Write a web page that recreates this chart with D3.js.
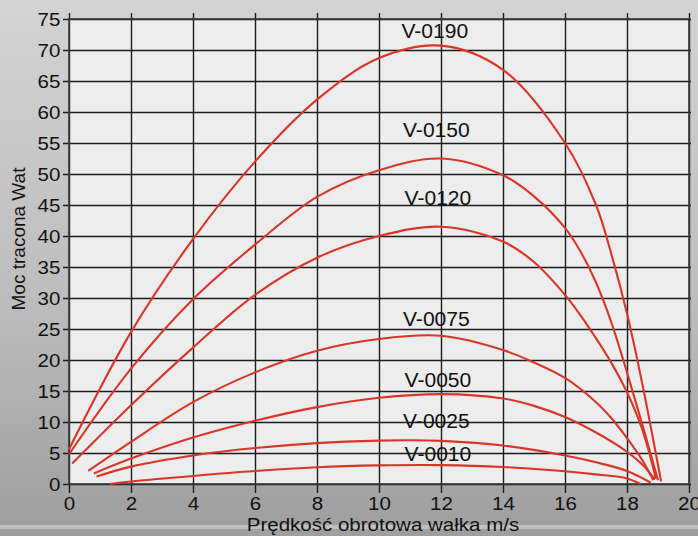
<!DOCTYPE html>
<html>
<head>
<meta charset="utf-8">
<script src="https://cdn.jsdelivr.net/npm/d3@7"></script>
<style>
  html, body { margin: 0; padding: 0; background: #b8b8b8; }
  svg { display: block; }
</style>
</head>
<body>
<div id="chart"></div>
<script>
// ---- data ----
const seriesNames = ["V-0190", "V-0150", "V-0120", "V-0075", "V-0050", "V-0025", "V-0010"];

const v0190x = [0, 2, 4, 6, 8, 10, 12, 14, 16, 17, 17.5, 18, 18.5, 19.1];
const v0190y = [5.6, 24.5, 39.5, 52, 62, 68.7, 70.7, 66.8, 55, 45, 37, 27.5, 16, 0.4];

const v0150x = [0, 2, 4, 6, 8, 10, 12, 14, 15, 16, 16.5, 17, 17.5, 18, 18.5, 19.0];
const v0150y = [4.8, 18.6, 29.8, 38.6, 46.3, 50.6, 52.5, 49.8, 46.4, 41.3, 37.5, 32.5, 26, 18, 9.5, 0.6];

const v0120x = [0.1, 2, 4, 6, 8, 10, 12, 14, 15, 16, 16.5, 17, 17.5, 18, 18.5, 18.93];
const v0120y = [3.3, 12.7, 22, 30.5, 36.5, 40, 41.5, 39.1, 35.8, 30.5, 27.2, 23.5, 19.5, 14.8, 8.7, 0.9];

const v0075x = [0.62, 2, 4, 6, 8, 10, 12, 14, 15, 16, 17, 17.5, 18, 18.5, 18.85];
const v0075y = [2.1, 6.8, 13.2, 18, 21.5, 23.4, 23.9, 21.6, 19.6, 17.1, 13.2, 10.6, 7.4, 3.8, 0.6];

const v0050x = [0.8, 2, 4, 6, 8, 10, 12, 14, 15, 16, 17, 18, 18.5, 18.9];
const v0050y = [1.7, 4.1, 7.5, 10.2, 12.4, 13.9, 14.5, 13.8, 12.6, 10.8, 8.3, 5.2, 3.1, 0.75];

const v0025x = [0.89, 2, 4, 6, 8, 10, 11, 12, 14, 16, 17, 18, 18.77];
const v0025y = [1.2, 2.8, 4.6, 5.8, 6.6, 7.0, 7.05, 6.95, 6.2, 4.6, 3.5, 2.1, 0.2];

const v0010x = [1.32, 2, 4, 6, 8, 10, 12, 14, 16, 17, 18, 18.44];
const v0010y = [0, 0.4, 1.3, 2.1, 2.7, 3.0, 3.05, 2.75, 2.05, 1.55, 0.9, 0];

const seriesX = [v0190x, v0150x, v0120x, v0075x, v0050x, v0025x, v0010x];
const seriesY = [v0190y, v0150y, v0120y, v0075y, v0050y, v0025y, v0010y];

// label anchors (data units)
const labelX = [11.8, 11.85, 11.9, 11.85, 11.9, 11.85, 11.9];
const labelY = [71.9, 56.0, 45.0, 25.5, 15.6, 9.0, 3.7];

const xTicks = [0, 2, 4, 6, 8, 10, 12, 14, 16, 18, 20];
const yTicks = [0, 5, 10, 15, 20, 25, 30, 35, 40, 45, 50, 55, 60, 65, 70, 75];

const xTitle = "Prędkość obrotowa wałka m/s";
const yTitle = "Moc tracona Wat";

(function () {
// ---- layout ----
const W = 698, H = 536;
const mLeft = 69, mRight = 689, mTop = 19, mBottom = 484;
const FONT = "'Liberation Sans', Arial, sans-serif";
const SX = 1.08; // horizontal stretch of the reference's lettering

const svg = d3.select("#chart").append("svg").attr("width", W).attr("height", H);

const defs = svg.append("defs");
const bg = defs.append("linearGradient").attr("id", "bg").attr("x1", 0).attr("y1", 0).attr("x2", 0).attr("y2", 1);
bg.append("stop").attr("offset", "0%").attr("stop-color", "#d3d3d3");
bg.append("stop").attr("offset", "55%").attr("stop-color", "#bdbdbd");
bg.append("stop").attr("offset", "100%").attr("stop-color", "#9e9e9e");

svg.append("rect").attr("width", W).attr("height", H).attr("fill", "url(#bg)");
svg.append("rect").attr("x", 0).attr("y", 525).attr("width", W).attr("height", 4).attr("fill", "#c9c9c9").attr("opacity", 0.8);

const x = d3.scaleLinear().domain([0, 20]).range([mLeft, mRight]);
const y = d3.scaleLinear().domain([0, 75]).range([mBottom, mTop]);

// plot background
svg.append("rect").attr("x", mLeft).attr("y", mTop).attr("width", mRight - mLeft).attr("height", mBottom - mTop)
  .attr("fill", "#ecedec");

// grid via axes
const gx = svg.append("g").attr("transform", `translate(0,${mBottom})`)
  .call(d3.axisBottom(x).tickValues(xTicks).tickSize(-(mBottom - mTop) - 6).tickSizeOuter(0).tickPadding(13));
gx.select(".domain").remove();
gx.selectAll(".tick line").attr("stroke", "#1c1c1c").attr("stroke-width", 1.4).attr("y1", 9);
gx.selectAll(".tick text").attr("font-family", FONT).attr("font-size", 19).attr("fill", "#111")
  .attr("transform", `scale(${SX},1)`);

const gy = svg.append("g").attr("transform", `translate(${mLeft},0)`)
  .call(d3.axisLeft(y).tickValues(yTicks).tickSize(-(mRight - mLeft) - 2).tickSizeOuter(0).tickPadding(8));
gy.select(".domain").remove();
gy.selectAll(".tick line").attr("stroke", "#1c1c1c").attr("stroke-width", 1.4).attr("x1", -6);
gy.selectAll(".tick text").attr("font-family", FONT).attr("font-size", 19).attr("fill", "#111")
  .attr("transform", `scale(${SX},1)`);

// border
svg.append("rect").attr("x", mLeft).attr("y", mTop).attr("width", mRight - mLeft).attr("height", mBottom - mTop)
  .attr("fill", "none").attr("stroke", "#3a3a3a").attr("stroke-width", 1.6);

// curves
const line = d3.line().x(d => x(d[0])).y(d => y(d[1])).curve(d3.curveCatmullRom.alpha(0.5));
seriesNames.forEach((name, i) => {
  const pts = seriesX[i].map((v, j) => [v, seriesY[i][j]]);
  svg.append("path").datum(pts).attr("d", line)
    .attr("fill", "none").attr("stroke", "#d9362a").attr("stroke-width", 2.1);
});

// labels
seriesNames.forEach((name, i) => {
  svg.append("text")
    .attr("transform", `translate(${x(labelX[i])},${y(labelY[i])}) scale(${SX},1)`)
    .attr("text-anchor", "middle").attr("font-family", FONT).attr("font-size", 19.5)
    .attr("fill", "#111").text(name);
});

// titles
svg.append("text").attr("transform", `translate(383,531) scale(${SX},1)`).attr("text-anchor", "middle")
  .attr("font-family", FONT).attr("font-size", 19).attr("fill", "#111").text(xTitle);
svg.append("text").attr("transform", "translate(25,239) rotate(-90)").attr("text-anchor", "middle")
  .attr("font-family", FONT).attr("font-size", 19).attr("fill", "#111").text(yTitle);
})();
</script>
</body>
</html>
